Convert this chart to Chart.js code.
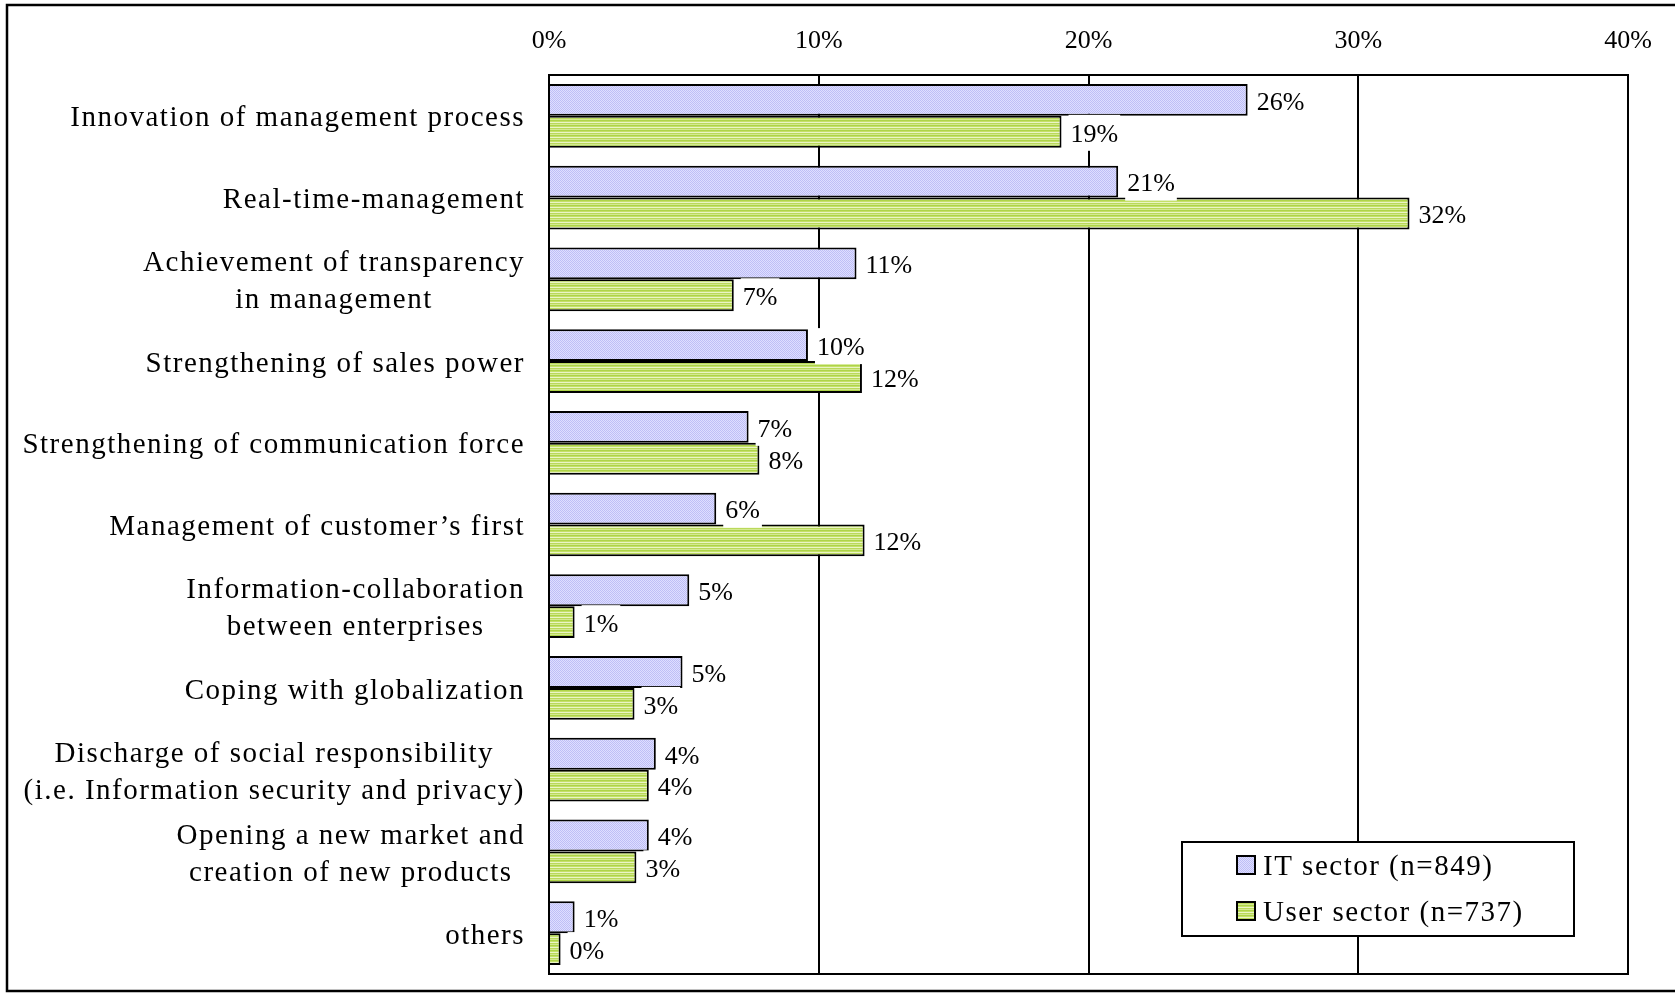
<!DOCTYPE html>
<html>
<head>
<meta charset="utf-8">
<script src="https://cdn.jsdelivr.net/npm/chart.js@4.4.0/dist/chart.umd.min.js"></script>
<style>
  html, body { margin: 0; padding: 0; background: #fff; }
  canvas { display: block; }
</style>
</head>
<body>
<canvas id="chart" width="1675" height="993"></canvas>
<script>
// data
const categories = [
    'Innovation of management process',
    'Real-time-management',
    ['Achievement of transparency', 'in management'],
    'Strengthening of sales power',
    'Strengthening of communication force',
    'Management of customer\u2019s first',
    ['Information-collaboration', 'between enterprises'],
    'Coping with globalization',
    ['Discharge of social responsibility', '(i.e. Information security and privacy)'],
    ['Opening a new market and', 'creation of new products'],
    'others'
];
const itValues   = [25.9, 21.1, 11.4, 9.6, 7.4, 6.2, 5.2, 4.95, 3.96, 3.7, 0.95];
const userValues = [19.0, 31.9, 6.85, 11.6, 7.8, 11.7, 0.95, 3.17, 3.7, 3.24, 0.43];
const seriesNames = ['IT sector (n=849)', 'User sector (n=737)'];
const xTicks = [0, 10, 20, 30, 40];

const FONT = '"Liberation Serif", "DejaVu Serif", serif';

function makePattern(w, h, paint) {
    const c = document.createElement('canvas');
    c.width = w; c.height = h;
    const g = c.getContext('2d');
    for (let y = 0; y < h; y++) {
        for (let x = 0; x < w; x++) {
            g.fillStyle = paint(x, y);
            g.fillRect(x, y, 1, 1);
        }
    }
    return g.createPattern(c, 'repeat');
}

const ctx = document.getElementById('chart').getContext('2d');

// fine lavender dither / horizontal green stripes
const bluePattern = makePattern(2, 2, (x, y) => ((x + y) % 2 === 0) ? '#bebef6' : '#dedeff');
const greenRows = ['#aed448', '#c4e068', '#eaf5c6', '#bad95a', '#d4e992'];
const greenPattern = makePattern(1, 5, (x, y) => greenRows[y]);

const decorations = {
    id: 'decorations',
    beforeDraw(chart) {
        const c = chart.ctx;
        c.save();
        c.fillStyle = '#fff';
        c.fillRect(0, 0, chart.width, chart.height);
        c.strokeStyle = '#000';
        c.lineWidth = 2.5;
        c.strokeRect(7, 5, chart.width + 20, 986);
        c.restore();
    },
    afterDatasetsDraw(chart) {
        const c = chart.ctx;
        const area = chart.chartArea;
        const yScale = chart.scales.y;
        c.save();

        // plot frame
        c.strokeStyle = '#000';
        c.lineWidth = 2;
        c.strokeRect(area.left, area.top, area.right - area.left, area.bottom - area.top);

        // category labels: block right-aligned, lines centred inside the block
        c.font = '29px ' + FONT;
        c.letterSpacing = '1.5px';
        c.fillStyle = '#000';
        c.textBaseline = 'middle';
        c.textAlign = 'center';
        categories.forEach((lab, i) => {
            const lines = Array.isArray(lab) ? lab : [lab];
            const widest = Math.max(...lines.map(l => c.measureText(l).width));
            const cx = area.left - 24 - widest / 2;
            const cy = yScale.getPixelForValue(i) + 3;
            lines.forEach((l, k) => {
                c.fillText(l, cx, cy + (k - (lines.length - 1) / 2) * 37);
            });
        });

        // value labels with white boxes
        c.letterSpacing = '0px';
        c.font = '26px ' + FONT;
        c.textAlign = 'left';
        chart.data.datasets.forEach((ds, di) => {
            chart.getDatasetMeta(di).data.forEach((bar, i) => {
                const txt = Math.round(ds.data[i]) + '%';
                const w = c.measureText(txt).width;
                const x = bar.x + 9;
                c.fillStyle = '#fff';
                c.fillRect(x - 2, bar.y - 17, w + 4, 36);
                c.fillStyle = '#000';
                c.fillText(txt, x, bar.y + 3);
            });
        });

        // legend box
        const lx = 1182, ly = 842, lw = 392, lh = 94;
        c.fillStyle = '#fff';
        c.fillRect(lx, ly, lw, lh);
        c.lineWidth = 2;
        c.strokeStyle = '#000';
        c.strokeRect(lx, ly, lw, lh);
        c.font = '29px ' + FONT;
        c.letterSpacing = '1.5px';
        c.textBaseline = 'middle';
        chart.data.datasets.forEach((ds, di) => {
            const cy = 865 + di * 46;
            c.fillStyle = ds.backgroundColor;
            c.fillRect(1237, cy - 9, 18, 18);
            c.strokeRect(1237, cy - 9, 18, 18);
            c.fillStyle = '#000';
            c.fillText(seriesNames[di], 1263, cy + 2);
        });
        c.restore();
    }
};

new Chart(ctx, {
    type: 'bar',
    data: {
        labels: categories,
        datasets: [
            {
                label: seriesNames[0],
                data: itValues,
                backgroundColor: bluePattern,
                borderColor: '#000',
                borderWidth: 2,
                borderSkipped: 'start'
            },
            {
                label: seriesNames[1],
                data: userValues,
                backgroundColor: greenPattern,
                borderColor: '#000',
                borderWidth: 2,
                borderSkipped: 'start'
            }
        ]
    },
    options: {
        indexAxis: 'y',
        responsive: false,
        animation: false,
        devicePixelRatio: 1,
        categoryPercentage: 0.78,
        barPercentage: 1,
        layout: { padding: { left: 0, right: 47, top: 0, bottom: 19 } },
        plugins: {
            legend: { display: false },
            tooltip: { enabled: false }
        },
        scales: {
            x: {
                position: 'top',
                min: xTicks[0],
                max: xTicks[xTicks.length - 1],
                afterBuildTicks: s => { s.ticks = xTicks.map(v => ({ value: v })); },
                afterFit: s => { s.height = 75; },
                grid: { color: '#000', lineWidth: 2, drawTicks: false },
                border: { display: false },
                ticks: {
                    padding: 18,
                    color: '#000',
                    font: { family: FONT, size: 26 },
                    callback: v => v + '%'
                }
            },
            y: {
                afterFit: s => { s.width = 549; },
                grid: { display: false },
                border: { display: false },
                ticks: { display: false }
            }
        }
    },
    plugins: [decorations]
});
</script>
</body>
</html>
